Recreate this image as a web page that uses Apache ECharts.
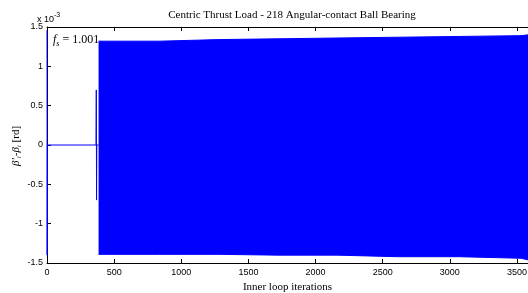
<!DOCTYPE html>
<html><head><meta charset="utf-8">
<script src="https://cdn.jsdelivr.net/npm/echarts@6/dist/echarts.min.js"></script>
<style>html,body{margin:0;padding:0;background:#fff}#c{width:528px;height:293px}</style>
</head><body><div id="c"></div>
<script>
// Units: x 10^-3 rd
const xTicks = [0, 500, 1000, 1500, 2000, 2500, 3000, 3500];
const yTicks = [-1.5, -1, -0.5, 0, 0.5, 1, 1.5];
// initial transient trace
const initX = [0, 1, 3, 365, 367, 369, 371, 384];
const initY = [1.46, -1.40, 0, 0, 0.70, -0.70, 0, 0];
// envelope of the dense oscillation
const bandX = [384, 840, 1280, 1720, 2160, 2610, 3070, 3530, 3582];
const bandUpper = [1.32, 1.34, 1.35, 1.36, 1.37, 1.38, 1.39, 1.40, 1.40];
const bandLower = [-1.39, -1.39, -1.40, -1.40, -1.42, -1.42, -1.44, -1.46, -1.46];

const BLUE = '#0000ff';
const sans = 'Liberation Sans, Arial, sans-serif';
const serif = 'Liberation Serif, Times New Roman, serif';

const chart = echarts.init(document.getElementById('c'), null, {renderer: 'canvas'});
const axLine = {show: true, onZero: false, lineStyle: {color: '#000', width: 1}};
chart.setOption({
  animation: false,
  backgroundColor: '#fff',
  title: {
    text: 'Centric Thrust Load - 218 Angular-contact Ball Bearing',
    left: 287, top: 5, textAlign: 'center',
    textStyle: {fontFamily: serif, fontSize: 11, fontWeight: 'normal', color: '#000'}
  },
  grid: {left: 47, right: 0, top: 27, bottom: 30, containLabel: false, outerBoundsMode: 'none'},
  xAxis: [{
    type: 'value', min: 0, max: 3582, position: 'bottom',
    axisLine: axLine,
    axisTick: {show: true, inside: true, length: 4, customValues: xTicks, lineStyle: {color: '#000'}},
    axisLabel: {customValues: xTicks, fontFamily: sans, fontSize: 9, color: '#000', margin: 5,
      formatter: v => String(v)},
    splitLine: {show: false},
    name: 'Inner loop iterations', nameLocation: 'middle', nameGap: 13,
    nameTextStyle: {fontFamily: serif, fontSize: 11, color: '#000'}
  }, {
    type: 'value', min: 0, max: 3582, position: 'top',
    axisLine: axLine,
    axisTick: {show: true, inside: true, length: 4, customValues: xTicks, lineStyle: {color: '#000'}},
    axisLabel: {show: false}, splitLine: {show: false}
  }],
  yAxis: [{
    type: 'value', min: -1.5, max: 1.5, interval: 0.5, position: 'left',
    axisLine: axLine,
    axisTick: {show: true, inside: true, length: 4, lineStyle: {color: '#000'}},
    axisLabel: {fontFamily: sans, fontSize: 9, color: '#000', margin: 4,
      formatter: v => String(v)},
    splitLine: {show: false}
  }, {
    type: 'value', min: -1.5, max: 1.5, interval: 0.5, position: 'right',
    axisLine: axLine, axisTick: {show: false}, axisLabel: {show: false}, splitLine: {show: false}
  }],
  graphic: [{
    type: 'text', x: 16, y: 146, rotation: Math.PI / 2,
    style: {
      text: "{b|β'}{s|i}{n|-}{b|β}{s|i}{n| [rd]}",
      align: 'center', verticalAlign: 'middle',
      rich: {
        b: {fontFamily: serif, fontSize: 11, fontStyle: 'italic', fill: '#000'},
        s: {fontFamily: serif, fontSize: 7, fontStyle: 'italic', fill: '#000', padding: [7, 0, 0, 0]},
        n: {fontFamily: serif, fontSize: 11, fill: '#000'}
      }
    }
  }, {
    type: 'text', left: 37, top: 12,
    style: {
      text: '{a|x 10}{p|-3}',
      rich: {
        a: {fontFamily: sans, fontSize: 9, fill: '#000', padding: [3, 0, 0, 0]},
        p: {fontFamily: sans, fontSize: 7, fill: '#000', padding: [0, 0, 5, 0]}
      }
    }
  }, {
    type: 'text', left: 53, top: 34, z: 100,
    style: {
      text: '{f|f}{s|s}{n| = 1.001}',
      rich: {
        f: {fontFamily: serif, fontSize: 12, fontStyle: 'italic', fill: '#000'},
        s: {fontFamily: serif, fontSize: 8, fontStyle: 'italic', fill: '#000', padding: [7, 0, 0, 0]},
        n: {fontFamily: serif, fontSize: 12, fill: '#000'}
      }
    }
  }],
  series: [{
    type: 'line', name: 'init', symbol: 'none', silent: true,
    data: initX.map((x, i) => [x, initY[i]]),
    lineStyle: {color: BLUE, width: 1}
  }, {
    type: 'line', name: 'lower', symbol: 'none', silent: true, step: 'end',
    data: bandX.map((x, i) => [x, bandLower[i]]),
    lineStyle: {color: BLUE, width: 1},
    areaStyle: {color: BLUE, opacity: 1, origin: 0}
  }, {
    type: 'line', name: 'upper', symbol: 'none', silent: true, step: 'end',
    data: bandX.map((x, i) => [x, bandUpper[i]]),
    lineStyle: {color: BLUE, width: 1},
    areaStyle: {color: BLUE, opacity: 1, origin: 0}
  }]
});
</script>
</body></html>
